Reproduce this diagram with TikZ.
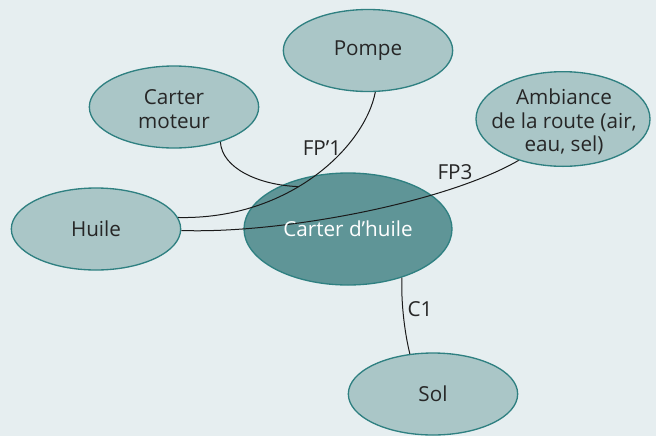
\documentclass[tikz,border=0pt]{standalone}
\usepackage{fontspec}
\setmainfont{Open Sans}
\usetikzlibrary{shapes.geometric}

\definecolor{pagebg}{HTML}{E6EEF0}
\definecolor{bubblefill}{HTML}{AAC6C7}
\definecolor{bubbleedge}{HTML}{2F8081}
\definecolor{corefill}{HTML}{5F9597}
\definecolor{inktext}{HTML}{262626}
\definecolor{inkline}{HTML}{1A1A1A}

\tikzset{
  bubble/.style={ellipse, draw=bubbleedge, line width=1pt, fill=bubblefill,
    inner sep=0pt, minimum width=127pt, minimum height=61.5pt},
  core/.style={ellipse, draw=bubbleedge, line width=1pt, fill=corefill,
    inner sep=0pt, minimum width=156pt, minimum height=84pt},
  caption/.style={inner sep=0pt, align=center, text=inktext,
    font=\fontsize{15.5pt}{17.5pt}\selectfont},
  corecaption/.style={caption, text=white},
  link/.style={draw=inkline, line width=0.75pt},
  linklabel/.style={inner sep=0pt, text=inktext, font=\fontsize{15.5pt}{17.5pt}\selectfont}
}

\begin{document}
\begin{tikzpicture}[x=0.75pt, y=-0.75pt]
  % page
  \fill[pagebg] (0,0) rectangle (656,436);
  \useasboundingbox (0,0) rectangle (656,436);

  % components
  \node[bubble] (pompe)    at (368,50.5) {};
  \node[bubble] (moteur)   at (174,107) {};
  \node[bubble, minimum width=130.5pt, minimum height=71pt] (ambiance) at (563,119) {};
  \node[bubble] (huile)    at (96,229) {};
  \node[bubble] (sol)      at (433,394) {};
  \node[core]   (carter)   at (348,229) {};

  % links (drawn over the central part)
  \draw[link] (huile.8.5) .. controls (290,220) and (365,146) .. (pompe.-80)
    coordinate[pos=0.425] (jct);
  \draw[link] (moteur.-37) .. controls (222,168) and (258,185) .. (jct);
  \draw[link] (huile.-1) .. controls (280,234) and (445,203) .. (ambiance.-137.4);
  \draw[link] (carter.-42.3) .. controls (401,300) and (404,330) .. (sol.120);

  % captions
  \node[caption]     (tpompe)  at (368,51)  {Pompe};
  \node[caption]     (tmoteur) at (174,109) {Carter\\moteur};
  \node[caption]     (tamb)    at (564,122) {Ambiance\\de la route (air,\\eau, sel)};
  \node[caption]     (thuile)  at (96,229)  {Huile};
  \node[caption]     (tsol)    at (433,394) {Sol};
  \node[corecaption] (tcarter) at (348,229) {Carter d’huile};

  % link labels
  \node[linklabel] (lfp1) at (322,148) {FP’1};
  \node[linklabel] (lfp3) at (455,172) {FP3};
  \node[linklabel] (lc1)  at (420,309) {C1};
\end{tikzpicture}
\end{document}
